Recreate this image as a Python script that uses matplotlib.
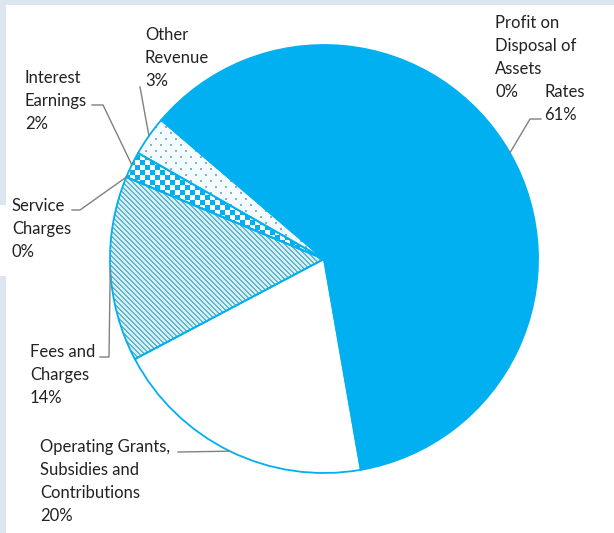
import numpy as np
import matplotlib
matplotlib.use("Agg")
import matplotlib.pyplot as plt
from matplotlib.patches import Rectangle, Wedge

# REVENUE SHARES (percent)
categories = ["Rates", "Operating Grants,\nSubsidies and\nContributions", "Fees and\nCharges",
              "Service\nCharges", "Interest\nEarnings", "Other\nRevenue",
              "Profit on\nDisposal of\nAssets"]
shares = [61, 20, 14, 0, 2, 3, 0]

# canvas is laid out in pixels, y measured from the top
W, H = 614, 533
BLUE = "#00b0f0"
TEXT = "#222222"
LEADER = "#808080"
LINE_STEP = 23

def sy(y):
    return H - y

# label anchor (left, top of first line) and leader polyline start / elbow
label_pos = [(544, 84), (40, 439), (30, 344), (12, 198), (25, 70), (145, 27), (495, 15)]
leader_pts = [[(541, 119), (530, 119)],
              [(178, 452)],
              [(100, 357), (109, 357)],
              [(72, 210), (80, 210)],
              [(92, 105), (103, 105)],
              [(140, 87)],
              None]

fig = plt.figure(figsize=(W / 100, H / 100), dpi=100, facecolor="#dce6f1")
ax = fig.add_axes([0, 0, 1, 1])

# white chart area inside the light border
ax.add_patch(Rectangle((6, 0), W - 6, H - 5, facecolor="white", edgecolor="none", zorder=0))
ax.add_patch(Rectangle((0, sy(276)), 6, 71, facecolor="white", edgecolor="none", zorder=0))

cx, cy, r = 324, sy(259), 214
fills = [BLUE, "white", "white", "white", "white", "white", "white"]
wedges, _ = ax.pie(shares, colors=fills, startangle=139.5, counterclock=False,
                   center=(cx, cy), radius=r, wedgeprops=dict(linewidth=0))

# PATTERN FILLS
yy, xx = np.mgrid[0:H, 0:W]

def rgba(hexcol):
    return np.array(matplotlib.colors.to_rgba(hexcol))

def pattern_image(mask, on, off):
    img = np.empty((H, W, 4))
    img[:] = rgba(off)
    img[mask] = rgba(on)
    return img

stripes = pattern_image(((xx - yy) % 5) < 2, "#66b4cb", "#d4f1fa")
checker = pattern_image(((xx // 5) + (yy // 5)) % 2 == 0, BLUE, "white")
row = yy // 6
dots = pattern_image(((yy % 6) < 2) & (((xx + 5 * (row % 2)) % 10) < 2), "#86b2c5", "#f3fbfe")

for idx, img in [(2, stripes), (4, checker), (5, dots)]:
    im = ax.imshow(img, extent=(0, W, 0, H), origin="upper", interpolation="nearest", zorder=2)
    im.set_clip_path(wedges[idx])

# slice outlines
for w in wedges:
    ax.add_patch(Wedge(w.center, w.r, w.theta1, w.theta2, fill=False,
                       edgecolor=BLUE, linewidth=1.3, zorder=3))

# LABELS AND LEADER LINES
for i, w in enumerate(wedges):
    lines = categories[i].split("\n") + [f"{shares[i]}%"]
    x, y = label_pos[i]
    for k, line in enumerate(lines):
        ax.text(x, sy(y + k * LINE_STEP), line, ha="left", va="top", fontsize=12,
                family="Lato", color=TEXT, zorder=5)
    if leader_pts[i] is None:
        continue
    mid = np.deg2rad((w.theta1 + w.theta2) / 2)
    end = (cx + r * np.cos(mid), cy + r * np.sin(mid))
    px = [p[0] for p in leader_pts[i]] + [end[0]]
    py = [sy(p[1]) for p in leader_pts[i]] + [end[1]]
    ax.plot(px, py, color=LEADER, linewidth=1, zorder=4)

ax.set_xlim(0, W)
ax.set_ylim(0, H)
ax.set_aspect("auto")
ax.axis("off")

fig.savefig("out.png", dpi=100, facecolor=fig.get_facecolor())
